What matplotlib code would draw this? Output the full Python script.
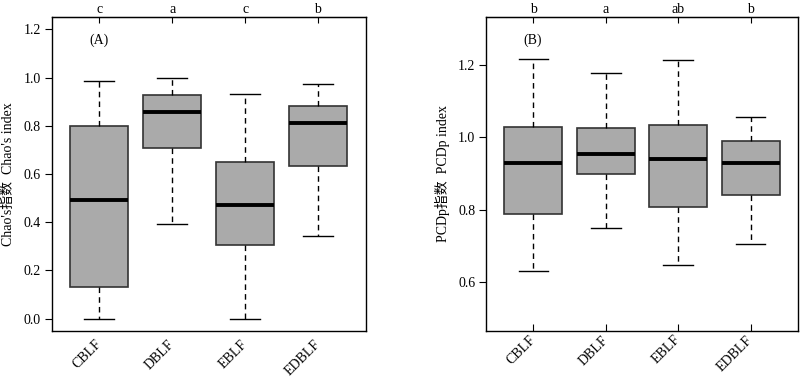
import matplotlib
matplotlib.use('Agg')
import matplotlib.pyplot as plt

plt.rcParams['font.family'] = ['Liberation Serif', 'Noto Sans CJK SC']

groups = ['CBLF', 'DBLF', 'EBLF', 'EDBLF']

# panel A: Chao's index
chao_low = [0.0, 0.393, 0.0, 0.342]
chao_q1 = [0.133, 0.709, 0.304, 0.633]
chao_med = [0.492, 0.858, 0.471, 0.811]
chao_q3 = [0.799, 0.929, 0.651, 0.882]
chao_high = [0.985, 0.998, 0.933, 0.972]
chao_letters = ['c', 'a', 'c', 'b']

# panel B: PCDp index
pcdp_low = [0.631, 0.748, 0.647, 0.706]
pcdp_q1 = [0.789, 0.898, 0.807, 0.841]
pcdp_med = [0.930, 0.954, 0.940, 0.928]
pcdp_q3 = [1.029, 1.026, 1.034, 0.989]
pcdp_high = [1.216, 1.177, 1.213, 1.056]
pcdp_letters = ['b', 'a', 'ab', 'b']


def draw_panel(ax, low, q1, med, q3, high, letters, ylim, yticks, ylabel, tag, bottom_ticks):
    stats = []
    for i in range(len(groups)):
        stats.append(dict(whislo=low[i], q1=q1[i], med=med[i], q3=q3[i], whishi=high[i], fliers=[]))
    ax.bxp(stats, positions=range(1, 5), widths=0.8, patch_artist=True,
           showfliers=False, capwidths=0.41,
           boxprops=dict(facecolor='#aaaaaa', edgecolor='#333333', linewidth=1.2),
           medianprops=dict(color='black', linewidth=2.8),
           whiskerprops=dict(color='black', linestyle=(0, (4, 3)), linewidth=1),
           capprops=dict(color='black', linewidth=1))
    ax.set_xlim(0.35, 4.66)
    ax.set_ylim(*ylim)
    ax.set_yticks(yticks)
    ax.set_yticklabels(['%.1f' % t for t in yticks], fontsize=10)
    ax.tick_params(axis='y', direction='out', length=5, width=0.8, pad=3)
    ax.set_xticks(range(1, 5))
    ax.set_xticklabels(groups, rotation=45, ha='right', va='center',
                       rotation_mode='anchor', fontsize=10)
    if bottom_ticks:
        ax.tick_params(axis='x', direction='in', length=5, width=0.8, pad=5)
    else:
        ax.tick_params(axis='x', length=0, pad=8)
    top = ax.secondary_xaxis('top')
    top.set_xticks(range(1, 5))
    top.set_xticklabels(letters, fontsize=10)
    top.tick_params(direction='in', length=4, width=0.8, pad=1)
    for sp in ax.spines.values():
        sp.set_linewidth(1)
    ax.set_ylabel(ylabel, fontsize=10, labelpad=6)
    ax.text(0.12, 0.925, tag, transform=ax.transAxes, fontsize=10, va='center')


fig = plt.figure(figsize=(8, 3.77), dpi=100)
ax1 = fig.add_axes([0.065, 0.122, 0.3925, 0.833])
ax2 = fig.add_axes([0.608, 0.122, 0.39, 0.833])

draw_panel(ax1, chao_low, chao_q1, chao_med, chao_q3, chao_high, chao_letters,
           (-0.051, 1.251), [0.0, 0.2, 0.4, 0.6, 0.8, 1.0, 1.2],
           "Chao's指数  Chao's index", '(A)', False)
draw_panel(ax2, pcdp_low, pcdp_q1, pcdp_med, pcdp_q3, pcdp_high, pcdp_letters,
           (0.4645, 1.333), [0.6, 0.8, 1.0, 1.2],
           'PCDp指数  PCDp index', '(B)', True)

fig.savefig('out.png', dpi=100)
